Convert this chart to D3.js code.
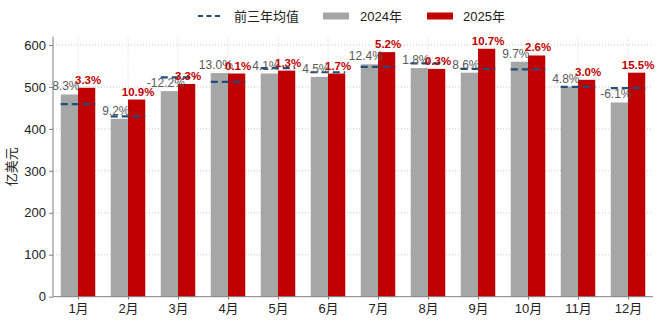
<!DOCTYPE html>
<html><head><meta charset="utf-8">
<script src="https://cdn.jsdelivr.net/npm/d3@7"></script>
<style>
html,body{margin:0;padding:0;background:#fff;}
svg{display:block;font-family:"Liberation Sans","Noto Sans CJK SC",sans-serif;}
</style></head>
<body><svg id="c" width="660" height="324"></svg>
<script>
const months = ["1月","2月","3月","4月","5月","6月","7月","8月","9月","10月","11月","12月"];
const v2024 = [482, 424, 490, 533, 532, 524, 554, 545, 534, 560, 501, 463];
const v2025 = [498, 470, 507, 532, 539, 532, 583, 543, 591, 575, 517, 534];
const avg3 = [459, 430, 523, 512, 545, 535, 548, 556, 543, 542, 500, 497];
const yoy2024 = ["8.3%","9.2%","-12.2%","13.0%","4.1%","4.5%","12.4%","1.8%","8.6%","9.7%","4.8%","-6.1%"];
const yoy2025 = ["3.3%","10.9%","3.3%","0.1%","1.3%","1.7%","5.2%","0.3%","10.7%","2.6%","3.0%","15.5%"];
const yTicks = [0,100,200,300,400,500,600];
const legendLabels = ["前三年均值","2024年","2025年"];

const C_GRAY = "#a6a6a6", C_RED = "#c00000", C_AVG = "#1f4e79";
const svg = d3.select("#c");
const L = 53, R = 653, T = 36.6, B = 296.7;

const x = d3.scaleBand().domain(months).range([L, R]).paddingInner(0.31).paddingOuter(0.155);
const xc = d3.scalePoint().domain(months).range([L, R]).padding(0.5);
const xs = d3.scaleBand().domain(["a","b"]).range([0, x.bandwidth()]);
const y = d3.scaleLinear().domain([0, 620]).range([B, T]);

// grid
const g = svg.append("g");
g.selectAll("line.h").data(yTicks.filter(d=>d>0)).join("line")
  .attr("x1", L).attr("x2", R).attr("y1", d=>y(d)).attr("y2", d=>y(d))
  .attr("stroke", "#c8c8c8").attr("stroke-width", 1).attr("stroke-dasharray", "1,2");
g.selectAll("line.v").data(months).join("line")
  .attr("x1", d=>xc(d)).attr("x2", d=>xc(d)).attr("y1", T).attr("y2", B)
  .attr("stroke", "#d4d4d4").attr("stroke-width", 1).attr("stroke-dasharray", "1,2");

// bars
svg.append("g").selectAll("rect").data(months).join("rect")
  .attr("x", d=>x(d)+xs("a")).attr("width", xs.bandwidth())
  .attr("y", (d,i)=>y(v2024[i])).attr("height", (d,i)=>B - y(v2024[i]))
  .attr("fill", C_GRAY);
svg.append("g").selectAll("rect").data(months).join("rect")
  .attr("x", d=>x(d)+xs("b")).attr("width", xs.bandwidth())
  .attr("y", (d,i)=>y(v2025[i])).attr("height", (d,i)=>B - y(v2025[i]))
  .attr("fill", C_RED);

// avg lines
svg.append("g").selectAll("line").data(months).join("line")
  .attr("x1", d=>x(d)).attr("x2", d=>x(d)+x.bandwidth())
  .attr("y1", (d,i)=>y(avg3[i])).attr("y2", (d,i)=>y(avg3[i]))
  .attr("stroke", C_AVG).attr("stroke-width", 2.2).attr("stroke-dasharray", "7,4");

// labels
svg.append("g").selectAll("text").data(months).join("text")
  .attr("x", d=>x(d)+xs("a")+xs.bandwidth()/2 - 3.5)
  .attr("y", (d,i)=>y(v2024[i]) - 4)
  .attr("text-anchor", "middle").attr("font-size", 12).attr("fill", "#595959")
  .text((d,i)=>yoy2024[i]);
svg.append("g").selectAll("text").data(months).join("text")
  .attr("x", d=>x(d)+xs("b")+xs.bandwidth()/2 + 1.5)
  .attr("y", (d,i)=>y(v2025[i]) - 4)
  .attr("text-anchor", "middle").attr("font-size", 11.5).attr("font-weight", "bold").attr("fill", C_RED)
  .text((d,i)=>yoy2025[i]);

// axes
const ya = svg.append("g").attr("transform", `translate(${L},0)`)
  .call(d3.axisLeft(y).tickValues(yTicks).tickSize(4).tickPadding(3));
ya.select(".domain").attr("stroke", "#808080").attr("d", `M0,${B}V${T}`);
ya.selectAll(".tick line").attr("stroke", "#808080");
ya.selectAll(".tick text").attr("font-size", 13).attr("fill", "#222")
  .attr("font-family", "\"Liberation Sans\",sans-serif");

const xa = svg.append("g").attr("transform", `translate(0,${B})`)
  .call(d3.axisBottom(xc).tickSize(3).tickPadding(4));
xa.select(".domain").attr("stroke", "#808080").attr("d", `M${L},0H${R}`);
xa.selectAll(".tick line").attr("stroke", "#808080");
xa.selectAll(".tick text").attr("font-size", 13).attr("fill", "#222")
  .attr("font-family", "\"Liberation Sans\",\"Noto Sans CJK SC\",sans-serif");

svg.append("text").attr("transform", `translate(16,${(T+B)/2}) rotate(-90)`)
  .attr("text-anchor", "middle").attr("font-size", 13).attr("fill", "#222")
  .attr("font-family", "\"Noto Sans CJK SC\",sans-serif").text("亿美元");

// legend
const lg = svg.append("g").attr("font-size", 13).attr("fill", "#222")
  .attr("font-family", "\"Liberation Sans\",\"Noto Sans CJK SC\",sans-serif");
lg.append("line").attr("x1", 198).attr("x2", 223).attr("y1", 16).attr("y2", 16)
  .attr("stroke", C_AVG).attr("stroke-width", 2.2).attr("stroke-dasharray", "5,3.5");
lg.append("text").attr("x", 234).attr("y", 21).text(legendLabels[0]);
lg.append("rect").attr("x", 323).attr("y", 12.5).attr("width", 26).attr("height", 7).attr("fill", C_GRAY);
lg.append("text").attr("x", 360).attr("y", 21).text(legendLabels[1]);
lg.append("rect").attr("x", 427).attr("y", 12.5).attr("width", 26).attr("height", 7).attr("fill", C_RED);
lg.append("text").attr("x", 463).attr("y", 21).text(legendLabels[2]);
</script></body></html>
